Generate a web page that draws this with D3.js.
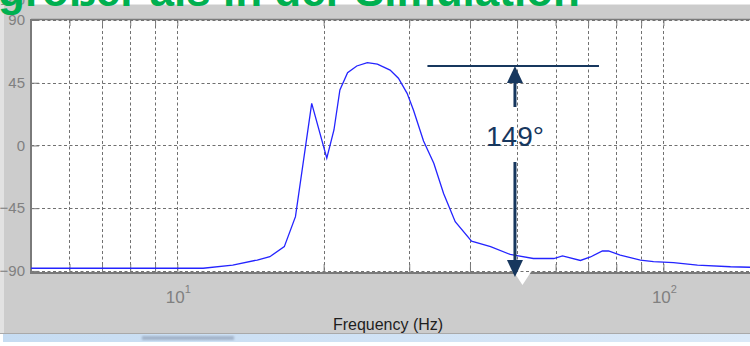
<!DOCTYPE html>
<html>
<head>
<meta charset="utf-8">
<script src="https://cdn.jsdelivr.net/npm/d3@7"></script>
<style>
  body { margin: 0; background: #fff; overflow: hidden; }
  svg { display: block; font-family: "Liberation Sans", Arial, sans-serif; }
</style>
</head>
<body>
<div id="chart"></div>
<script>
// phase response
const freqHz = [5, 11.3, 13.0, 14.6, 15.5, 16.6, 17.5, 18.9, 20.3, 21.0,
  21.6, 22.4, 23.4, 24.6, 25.8, 27.4, 28.5, 29.7, 30.6, 32.1,
  33.7, 35.3, 37.3, 40.3, 44.1, 48.4, 54.0, 59.5, 62.0, 67.5,
  70.8, 74.9, 77.1, 81.5, 89.7, 95.4, 104.9, 117.5, 137.4, 151];
const phaseDeg = [-88.1, -88.1, -85.8, -82.2, -79.8, -72.6, -51.1, 30.2, -9.2, 11.1,
  39.8, 52.2, 57.0, 59.4, 58.4, 54.1, 48.2, 37.4, 25.4, 3.2,
  -12.8, -34.4, -54.7, -68.6, -72.6, -78.2, -81.1, -81.1, -79.3, -82.5,
  -80.0, -75.6, -75.7, -78.6, -82.2, -83.4, -84.1, -85.8, -87.0, -87.4];

const yTicks = [90, 45, 0, -45, -90];
const xGridHz = [6, 7, 8, 9, 10, 20, 30, 40, 50, 60, 70, 80, 90, 100];
const xLabelHz = [10, 100];

// annotation: span between peak level and bottom
const markTop = 57, markBottom = -94.4, markLabel = "149°";
const markLineHz = [32.7, 73.7], markArrowHz = 49.5;

const slideTitle = "größer als in der Simulation";
const xTitle = "Frequency  (Hz)";

const width = 750, height = 346;
const plot = { left: 31, top: 20, right: 749, bottom: 273 };

const x = d3.scaleLog().domain([5, 150]).range([plot.left, plot.right]);
const y = d3.scaleLinear().domain([-91.5, 90]).range([plot.bottom, plot.top]);

const svg = d3.select("#chart").append("svg")
  .attr("width", width).attr("height", height);

// window background
svg.append("rect").attr("width", width).attr("height", height).attr("fill", "#fff");
svg.append("rect").attr("x", 0).attr("y", 0).attr("width", 4).attr("height", 333).attr("fill", "#e2e2e2");
svg.append("rect").attr("x", 4).attr("y", 0).attr("width", width - 4).attr("height", 333).attr("fill", "#cccccc");
svg.append("rect").attr("x", 30).attr("y", 0).attr("width", width - 30).attr("height", 4.5).attr("fill", "#fff");

// clipped label of the axes above
svg.append("text").attr("x", 25).attr("y", 4.5).attr("text-anchor", "end")
  .attr("font-size", 15).attr("fill", "#8a8a8a").text("180");
svg.append("rect").attr("x", 4).attr("y", 4.5).attr("width", 26).attr("height", 6).attr("fill", "#cccccc");

// status bar at the bottom
const grad = svg.append("defs").append("linearGradient").attr("id", "bar").attr("x1", 0).attr("x2", 1);
grad.append("stop").attr("offset", 0).attr("stop-color", "#c6dcf2");
grad.append("stop").attr("offset", 1).attr("stop-color", "#dbe9f8");
svg.append("rect").attr("x", 0).attr("y", 333).attr("width", width).attr("height", 1).attr("fill", "#a9a9a9");
svg.append("rect").attr("x", 3).attr("y", 334).attr("width", width - 3).attr("height", 8).attr("fill", "url(#bar)");
svg.select("defs").append("filter").attr("id", "blur")
  .append("feGaussianBlur").attr("stdDeviation", 1.2);
svg.append("rect").attr("x", 142).attr("y", 336).attr("width", 92).attr("height", 4)
  .attr("fill", "#8796ad").attr("opacity", 0.6).attr("filter", "url(#blur)");

// plot area
svg.append("rect")
  .attr("x", plot.left).attr("y", plot.top)
  .attr("width", plot.right - plot.left + 2).attr("height", plot.bottom - plot.top)
  .attr("fill", "#fff");

svg.select("defs").append("clipPath").attr("id", "clip")
  .append("rect").attr("x", plot.left).attr("y", plot.top)
  .attr("width", plot.right - plot.left + 2).attr("height", plot.bottom - plot.top);

// grid
const grid = svg.append("g").attr("stroke", "#707070").attr("stroke-dasharray", "3,2.5").attr("stroke-width", 1);
grid.selectAll(".gx").data(xGridHz).join("line")
  .attr("x1", d => Math.round(x(d)) + 0.5).attr("x2", d => Math.round(x(d)) + 0.5)
  .attr("y1", plot.top).attr("y2", plot.bottom);
grid.selectAll(".gy").data(yTicks).join("line")
  .attr("x1", plot.left).attr("x2", width)
  .attr("y1", d => Math.round(y(d)) + 0.5).attr("y2", d => Math.round(y(d)) + 0.5);

// axes
const yAxis = (g) =>
  g.attr("transform", `translate(${plot.left},0)`)
    .call(d3.axisLeft(y).tickValues(yTicks).tickSize(-8).tickPadding(6).tickFormat(d3.format("d")))
    .call((g) => g.select(".domain").remove())
    .call((g) => g.selectAll("line").attr("stroke", "#7a7a7a"))
    .call((g) => g.selectAll("text").attr("fill", "#808080").attr("font-size", 15)
      .attr("font-family", "Liberation Sans, Arial, sans-serif"));

const xAxis = (g) =>
  g.attr("transform", `translate(0,${plot.bottom})`)
    .call(d3.axisBottom(x).tickValues(xGridHz).tickSize(-9).tickFormat(""))
    .call((g) => g.select(".domain").remove())
    .call((g) => g.selectAll("line").attr("stroke", "#7a7a7a"));

const xAxisTop = (g) =>
  g.attr("transform", `translate(0,${plot.top})`)
    .call(d3.axisTop(x).tickValues(xGridHz).tickSize(-6).tickFormat(""))
    .call((g) => g.select(".domain").remove())
    .call((g) => g.selectAll("line").attr("stroke", "#7a7a7a"));

svg.append("g").call(xAxis);
svg.append("g").call(xAxisTop);
svg.append("g").call(yAxis);

// frame
svg.append("line").attr("x1", plot.left).attr("x2", width).attr("y1", plot.top - 0.5).attr("y2", plot.top - 0.5)
  .attr("stroke", "#7a7a7a").attr("stroke-width", 1.5);
svg.append("line").attr("x1", plot.left).attr("x2", width).attr("y1", plot.bottom).attr("y2", plot.bottom)
  .attr("stroke", "#7a7a7a").attr("stroke-width", 2);
svg.append("line").attr("x1", plot.left).attr("x2", plot.left).attr("y1", plot.top - 1).attr("y2", plot.bottom + 1)
  .attr("stroke", "#7a7a7a").attr("stroke-width", 2);

// x labels 10^n
const xl = svg.append("g").attr("fill", "#808080").attr("text-anchor", "middle");
xl.selectAll("text").data(xLabelHz).join("text")
  .attr("x", d => x(d) + 1)
  .attr("y", 303)
  .attr("font-size", 17)
  .call((t) => t.append("tspan").text("10"))
  .call((t) => t.append("tspan").attr("dy", -10).attr("font-size", 11).text(d => Math.round(Math.log10(d))));

svg.append("text")
  .attr("x", 388).attr("y", 330)
  .attr("text-anchor", "middle")
  .attr("font-size", 16)
  .attr("fill", "#1e1e1e")
  .text(xTitle);

// curve
const line = d3.line()
  .x((d, i) => x(freqHz[i]))
  .y((d) => y(d));

svg.append("path")
  .datum(phaseDeg)
  .attr("clip-path", "url(#clip)")
  .attr("fill", "none")
  .attr("stroke", "#2424ff")
  .attr("stroke-width", 1.3)
  .attr("d", line);

// annotation
const navy = "#17375e";
const ax = x(markArrowHz);
const yT = y(markTop), yB = y(markBottom);
const head = 17, halfW = 8;
const labelBase = 146;

svg.append("path")
  .attr("d", `M${ax - 1},${yB - 5}L${ax + 16},${yB - 5}L${ax + 7.5},${yB + 8}Z`)
  .attr("fill", "#fff");

svg.append("line")
  .attr("x1", x(markLineHz[0])).attr("x2", x(markLineHz[1]))
  .attr("y1", yT).attr("y2", yT)
  .attr("stroke", navy).attr("stroke-width", 2);

const arrow = svg.append("g").attr("stroke", navy).attr("stroke-width", 3);
arrow.append("line").attr("x1", ax).attr("x2", ax).attr("y1", yT + head - 1).attr("y2", labelBase - 39);
arrow.append("line").attr("x1", ax).attr("x2", ax).attr("y1", labelBase + 16).attr("y2", yB - head + 1);

svg.append("path")
  .attr("d", `M${ax},${yT}L${ax + halfW},${yT + head}L${ax - halfW},${yT + head}Z`)
  .attr("fill", navy);
svg.append("path")
  .attr("d", `M${ax},${yB}L${ax + halfW},${yB - head}L${ax - halfW},${yB - head}Z`)
  .attr("fill", navy);

svg.append("text")
  .attr("x", ax).attr("y", labelBase)
  .attr("text-anchor", "middle")
  .attr("font-size", 28)
  .attr("fill", navy)
  .text(markLabel);

// slide heading, cut off at the top edge
svg.append("text")
  .attr("x", -2).attr("y", 6)
  .attr("font-size", 44)
  .attr("font-weight", "bold")
  .attr("fill", "#00b050")
  .text(slideTitle);
</script>
</body>
</html>
